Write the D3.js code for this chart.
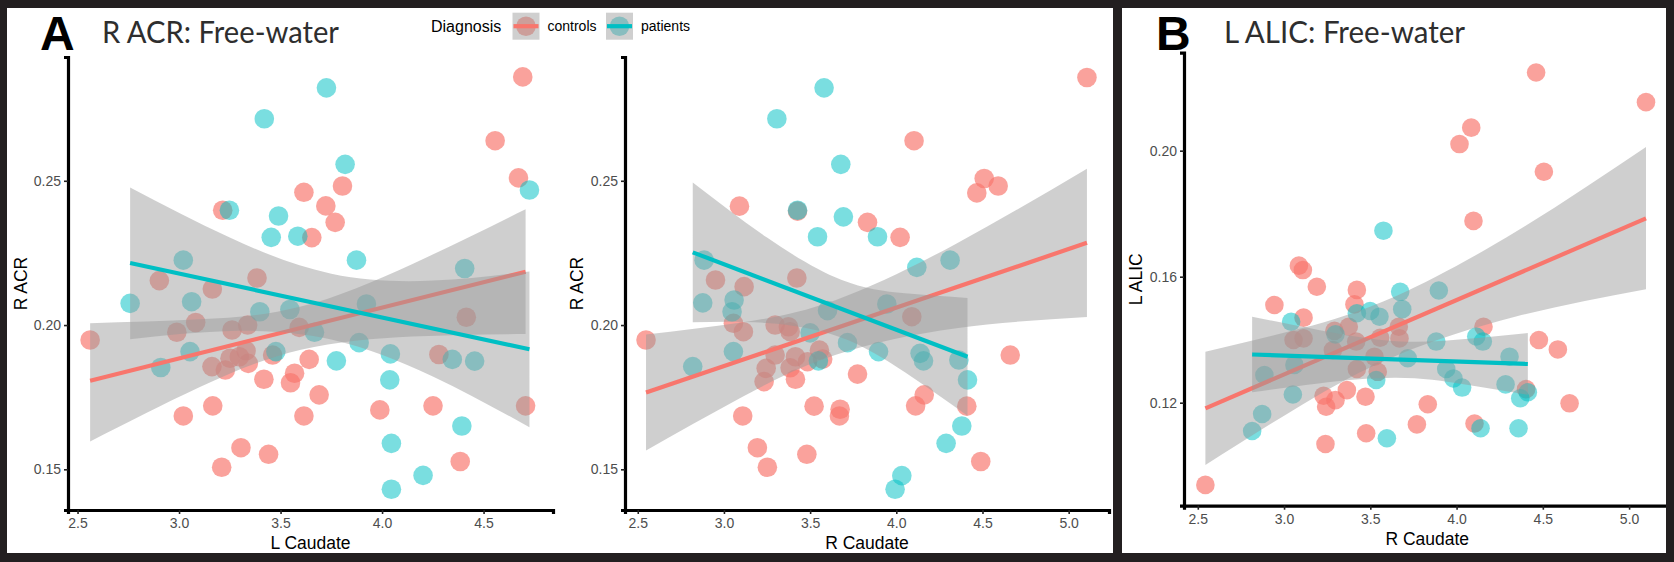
<!DOCTYPE html>
<html>
<head>
<meta charset="utf-8">
<title>Free-water vs caudate</title>
<style>
  body { margin: 0; background: #fff; }
  svg { display: block; }
</style>
</head>
<body>
<svg id="fig"></svg>
<script src="https://d3js.org/d3.v7.min.js"></script>
<script>
// ---- data: [caudate, free-water] ----
const racrLCaudControls = [[4.693,0.2860],[4.557,0.2639],[4.672,0.2510],[3.805,0.2482],[3.615,0.2460],[3.723,0.2413],[3.769,0.2356],[3.654,0.2303],[3.215,0.2398],[2.903,0.2154],[3.384,0.2163],[3.164,0.2125],[2.562,0.1948],[3.082,0.2009],[2.989,0.1975],[3.261,0.1983],[3.338,0.2000],[3.592,0.1992],[3.330,0.1911],[3.251,0.1885],[3.297,0.1890],[3.341,0.1867],[3.162,0.1856],[3.228,0.1844],[3.461,0.1896],[3.641,0.1881],[3.569,0.1833],[3.549,0.1800],[3.418,0.1812],[3.690,0.1758],[3.166,0.1720],[3.021,0.1685],[3.615,0.1685],[3.989,0.1706],[4.251,0.1720],[4.707,0.1720],[4.280,0.1898],[4.415,0.2027],[3.305,0.1575],[3.441,0.1552],[3.210,0.1507],[4.385,0.1527]]
const racrLCaudPatients = [[3.726,0.2822],[3.420,0.2715],[3.818,0.2557],[3.248,0.2398],[3.490,0.2378],[3.454,0.2304],[3.585,0.2308],[3.874,0.2225],[3.021,0.2225],[4.407,0.2196],[4.726,0.2468],[2.759,0.2075],[3.062,0.2081],[3.398,0.2046],[3.546,0.2054],[3.667,0.1975],[3.923,0.2073],[3.887,0.1939],[3.775,0.1876],[4.041,0.1900],[4.346,0.1881],[4.456,0.1875],[4.038,0.1810],[4.393,0.1650],[4.046,0.1590],[4.202,0.1479],[4.046,0.1431],[3.054,0.1908],[2.910,0.1853],[3.477,0.1908]]

const racrRCaudControls = [[5.106,0.2858],[4.103,0.2639],[4.510,0.2508],[4.591,0.2482],[4.467,0.2458],[3.090,0.2412],[3.427,0.2395],[3.833,0.2356],[4.022,0.2304],[2.951,0.2156],[3.117,0.2133],[3.423,0.2163],[2.548,0.1948],[4.090,0.2029],[3.055,0.2006],[3.113,0.1977],[3.297,0.2000],[3.374,0.1994],[3.384,0.1977],[3.297,0.1896],[3.245,0.1850],[3.233,0.1804],[3.415,0.1890],[3.384,0.1852],[3.485,0.1873],[3.554,0.1913],[3.573,0.1882],[3.415,0.1812],[3.775,0.1830],[3.523,0.1719],[3.674,0.1708],[3.670,0.1685],[3.109,0.1685],[4.162,0.1758],[4.112,0.1720],[4.409,0.1719],[4.661,0.1896],[3.194,0.1575],[3.481,0.1552],[3.252,0.1507],[4.490,0.1527]]
const racrRCaudPatients = [[3.581,0.2822],[3.307,0.2715],[3.678,0.2557],[3.427,0.2398],[3.693,0.2375],[3.543,0.2306],[3.891,0.2306],[4.119,0.2200],[4.312,0.2225],[2.885,0.2225],[2.877,0.2077],[3.059,0.2087],[3.047,0.2046],[3.601,0.2050],[3.945,0.2073],[3.500,0.1973],[3.717,0.1939],[3.897,0.1908],[4.138,0.1902],[4.158,0.1876],[4.363,0.1879],[3.055,0.1908],[2.819,0.1856],[3.548,0.1876],[4.413,0.1810],[4.380,0.1650],[4.289,0.1590],[4.032,0.1478],[3.993,0.1431]]

const lalicRCaudControls = [[4.461,0.2248],[4.085,0.2073],[4.017,0.2021],[4.506,0.1933],[4.098,0.1777],[3.086,0.1635],[3.109,0.1621],[3.190,0.1568],[3.422,0.1558],[5.098,0.2154],[2.544,0.0939],[2.944,0.1510],[3.113,0.1470],[3.408,0.1512],[3.055,0.1399],[3.113,0.1404],[3.292,0.1428],[3.375,0.1441],[3.418,0.1394],[3.557,0.1406],[3.669,0.1404],[3.665,0.1441],[4.156,0.1441],[3.283,0.1367],[3.524,0.1346],[3.422,0.1307],[3.543,0.1298],[4.477,0.1399],[4.587,0.1369],[4.403,0.1243],[4.655,0.1198],[3.229,0.1222],[3.298,0.1208],[3.244,0.1187],[3.364,0.1240],[3.472,0.1219],[3.833,0.1195],[3.770,0.1131],[4.104,0.1134],[3.476,0.1103],[3.240,0.1069]]
const lalicRCaudPatients = [[3.576,0.1746],[3.673,0.1552],[3.897,0.1556],[3.041,0.1457],[3.422,0.1484],[3.499,0.1491],[3.553,0.1473],[3.685,0.1497],[3.298,0.1417],[3.882,0.1394],[4.114,0.1410],[4.152,0.1394],[3.717,0.1341],[4.307,0.1346],[3.060,0.1320],[2.886,0.1288],[3.940,0.1307],[3.982,0.1277],[4.032,0.1248],[3.534,0.1272],[4.284,0.1258],[3.051,0.1226],[4.369,0.1214],[4.413,0.1233],[2.873,0.1164],[2.815,0.1110],[4.139,0.1119],[4.359,0.1119],[3.596,0.1087]]

// fitted lines (start, end) and confidence bands [x, lower, upper]
const fitA1Controls = [[2.562,0.1807],[4.707,0.2185]]
const fitA1Patients = [[2.759,0.2215],[4.726,0.1916]]
const fitA2Controls = [[2.548,0.1766],[5.106,0.2285]]
const fitA2Patients = [[2.819,0.2252],[4.413,0.1890]]
const fitBControls = [[2.544,0.1182],[5.098,0.1785]]
const fitBPatients = [[2.815,0.1353],[4.413,0.1323]]

const bandA1Controls = [[2.562,0.1596,0.2006],[3.10,0.1784,0.2020],[3.60,0.1914,0.2064],[4.15,0.1960,0.2212],[4.707,0.1969,0.2401]]
const bandA1Patients = [[2.759,0.1951,0.2477],[3.25,0.1979,0.2303],[3.75,0.1950,0.2178],[4.25,0.1822,0.2154],[4.726,0.1646,0.2186]]
const bandA2Controls = [[2.548,0.1565,0.1967],[3.10,0.1749,0.2009],[3.65,0.1897,0.2087],[4.35,0.1989,0.2283],[5.106,0.2028,0.2542]]
const bandA2Patients = [[2.819,0.2010,0.2494],[3.25,0.2007,0.2303],[3.68,0.1957,0.2157],[4.05,0.1836,0.2110],[4.413,0.1686,0.2094]]
const bandBControls = [[2.544,0.1002,0.1362],[3.10,0.1192,0.1436],[3.65,0.1349,0.1539],[4.35,0.1474,0.1745],[5.098,0.1560,0.2012]]
const bandBPatients = [[2.815,0.1233,0.1473],[3.20,0.1261,0.1431],[3.65,0.1279,0.1395],[4.05,0.1258,0.1402],[4.413,0.1225,0.1421]]

const xTicksA1 = [2.5, 3.0, 3.5, 4.0, 4.5]
const xTicksWide = [2.5, 3.0, 3.5, 4.0, 4.5, 5.0]
const yTicksACR = [0.15, 0.20, 0.25]
const yTicksALIC = [0.12, 0.16, 0.20]
const groups = ["controls", "patients"]
const colors = { controls: "#F8766D", patients: "#00BFC4" }

const W = 1674, H = 562
const sans = "'Liberation Sans', Arial, sans-serif"
const svg = d3.select("#fig").attr("width", W).attr("height", H)

svg.append("rect").attr("width", W).attr("height", H).attr("fill", "#fff")

const plots = [
    { controls: racrLCaudControls, patients: racrLCaudPatients,
      fit: { controls: fitA1Controls, patients: fitA1Patients },
      band: { controls: bandA1Controls, patients: bandA1Patients },
      xDomain: [2.453, 4.842], yDomain: [0.1359, 0.2929],
      left: 68, right: 553, top: 57, bottom: 510,
      xTicks: xTicksA1, yTicks: yTicksACR, xLabel: "L Caudate", yLabel: "R ACR", yLabelX: 27, r: 9.8 },
    { controls: racrRCaudControls, patients: racrRCaudPatients,
      fit: { controls: fitA2Controls, patients: fitA2Patients },
      band: { controls: bandA2Controls, patients: bandA2Patients },
      xDomain: [2.426, 5.234], yDomain: [0.1359, 0.2929],
      left: 625, right: 1109, top: 57, bottom: 510,
      xTicks: xTicksWide, yTicks: yTicksACR, xLabel: "R Caudate", yLabel: "R ACR", yLabelX: 583, r: 9.8 },
    { controls: lalicRCaudControls, patients: lalicRCaudPatients,
      fit: { controls: fitBControls, patients: fitBPatients },
      band: { controls: bandBControls, patients: bandBPatients },
      xDomain: [2.42, 5.24], yDomain: [0.0873, 0.2311],
      left: 1184, right: 1670.5, top: 52.7, bottom: 505.7,
      xTicks: xTicksWide, yTicks: yTicksALIC, xLabel: "R Caudate", yLabel: "L ALIC", yLabelX: 1142, r: 9.3, xLabelY: 545 }
]

function drawPlot(p) {
    const g = svg.append("g")
    const x = d3.scaleLinear().domain(p.xDomain).range([p.left, p.right])
    const y = d3.scaleLinear().domain(p.yDomain).range([p.bottom, p.top])

    // points first, smooths on top (as ggplot layers)
    groups.forEach(grp => {
        g.append("g").selectAll("circle")
            .data(p[grp])
            .enter()
            .append("circle")
            .attr("cx", d => x(d[0]))
            .attr("cy", d => y(d[1]))
            .attr("r", p.r)
            .attr("fill", colors[grp])
            .attr("fill-opacity", grp === "controls" ? 0.68 : 0.52)
    })

    groups.forEach(grp => {
        const area = d3.area()
            .x(d => x(d[0]))
            .y0(d => y(d[1]))
            .y1(d => y(d[2]))
            .curve(d3.curveNatural)
        g.append("path")
            .datum(p.band[grp])
            .attr("d", area)
            .attr("fill", "#999999")
            .attr("fill-opacity", 0.47)
        g.append("path")
            .datum(p.fit[grp])
            .attr("d", d3.line().x(d => x(d[0])).y(d => y(d[1])))
            .attr("stroke", colors[grp])
            .attr("stroke-width", 4.2)
            .attr("fill", "none")
    })

    const xAxis = g.append("g")
        .attr("transform", `translate(0,${p.bottom})`)
        .call(d3.axisBottom(x).tickValues(p.xTicks).tickFormat(d3.format(".1f")).tickSizeOuter(0).tickSize(4).tickPadding(4))
    const yAxis = g.append("g")
        .attr("transform", `translate(${p.left},0)`)
        .call(d3.axisLeft(y).tickValues(p.yTicks).tickFormat(d3.format(".2f")).tickSizeOuter(0).tickSize(4).tickPadding(3))

    ;[xAxis, yAxis].forEach(a => {
        a.select(".domain").attr("stroke", "#000").attr("stroke-width", 3.2)
        a.selectAll(".tick line").attr("stroke", "#222").attr("stroke-width", 1.6)
        a.selectAll(".tick text").attr("fill", "#4d4d4d").style("font-family", sans).style("font-size", "14px")
    })

    g.append("text")
        .attr("x", (p.left + p.right) / 2)
        .attr("y", p.xLabelY || 549)
        .attr("text-anchor", "middle")
        .style("font-family", sans).style("font-size", "17.5px")
        .attr("fill", "#000")
        .text(p.xLabel)

    g.append("text")
        .attr("transform", `translate(${p.yLabelX},${(p.top + p.bottom) / 2}) rotate(-90)`)
        .attr("text-anchor", "middle")
        .style("font-family", sans).style("font-size", "17.5px")
        .attr("fill", "#000")
        .text(p.yLabel)
}

plots.forEach(drawPlot)

// panel letters and titles
const titles = [
    { letter: "A", lx: 40, title: "R ACR: Free-water", tx: 102, tw: 237 },
    { letter: "B", lx: 1156, title: "L ALIC: Free-water", tx: 1224, tw: 241 }
]
titles.forEach(t => {
    svg.append("text").attr("x", t.lx).attr("y", 50)
        .style("font-family", sans).style("font-size", "48px").style("font-weight", "bold")
        .attr("fill", "#000").text(t.letter)
    svg.append("text").attr("x", t.tx).attr("y", 43)
        .attr("textLength", t.tw).attr("lengthAdjust", "spacingAndGlyphs")
        .style("font-family", "Lato, 'Open Sans', sans-serif").style("font-size", "31px")
        .attr("fill", "#2e2e2e").text(t.title)
})

// legend
const legend = svg.append("g")
legend.append("text").attr("x", 431).attr("y", 31.5)
    .style("font-family", sans).style("font-size", "16px")
    .attr("fill", "#000").text("Diagnosis")
const keyX = { controls: 512.5, patients: 606 }
groups.forEach(grp => {
    const k = legend.append("g").attr("transform", `translate(${keyX[grp]},12.7)`)
    k.append("rect").attr("width", 27).attr("height", 27).attr("fill", "#fff")
    k.append("circle").attr("cx", 13.5).attr("cy", 13.5).attr("r", 9.8)
        .attr("fill", colors[grp]).attr("fill-opacity", grp === "controls" ? 0.68 : 0.52)
    k.append("rect").attr("width", 27).attr("height", 27).attr("fill", "#999999").attr("fill-opacity", 0.47)
    k.append("line").attr("x1", 1).attr("x2", 26).attr("y1", 13.5).attr("y2", 13.5)
        .attr("stroke", colors[grp]).attr("stroke-width", 4.2)
    legend.append("text").attr("x", keyX[grp] + 35).attr("y", 31)
        .style("font-family", sans).style("font-size", "14px")
        .attr("fill", "#000").text(grp)
})

// dark frame around and between the two panels
const frame = [[0, 0, W, 8], [0, 553, W, 9], [0, 0, 7, H], [1666, 0, 8, H], [1113, 0, 9, H]]
svg.append("g").selectAll("rect")
    .data(frame)
    .enter()
    .append("rect")
    .attr("x", d => d[0]).attr("y", d => d[1])
    .attr("width", d => d[2]).attr("height", d => d[3])
    .attr("fill", "#231f20")
</script>
</body>
</html>
